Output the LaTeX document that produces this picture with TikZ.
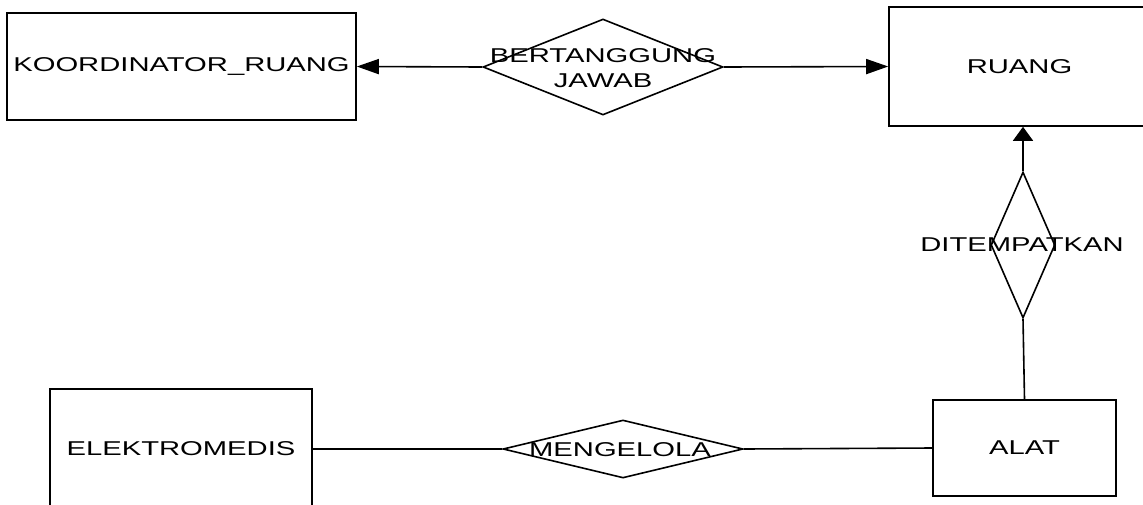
\documentclass[tikz,border=0pt]{standalone}
\usepackage{fontspec}
\setmainfont[FakeStretch=1.46]{Liberation Sans}
\usetikzlibrary{shapes.geometric,arrows.meta}
\begin{document}
\begin{tikzpicture}[x=1pt,y=-1pt,
  every node/.style={font=\fontsize{20}{25}\selectfont, text=black},
  entity/.style={draw, line width=1.6pt, rectangle, inner sep=0pt},
  rel/.style={draw, line width=1.6pt, diamond, inner sep=0pt},
  lbl/.style={align=center, inner sep=0pt},
  conn/.style={line width=1.6pt},
  harr/.style={line width=1.6pt, -{Triangle[length=22pt,width=15pt]}},
  varr/.style={line width=1.6pt, -{Triangle[length=14pt,width=20pt]}}]
\useasboundingbox (0,0) rectangle (1143,504);
% entities
\node[entity, minimum width=349pt, minimum height=107pt] (e1) at (181.5,66.5) {KOORDINATOR\_RUANG};
\node[entity, minimum width=261pt, minimum height=119pt] (e2) at (1019.5,66.5) {RUANG};
\node[entity, minimum width=262pt, minimum height=120pt] (e3) at (181,449) {ELEKTROMEDIS};
\node[entity, minimum width=183pt, minimum height=96pt] (e4) at (1024.5,448) {ALAT};
% relationships
\node[rel, minimum width=240pt, minimum height=96pt] (r1) at (603,67) {};
\node[lbl] (r1t) at (603,68) {BERTANGGUNG\\JAWAB};
\node[rel, minimum width=64pt, minimum height=146pt] (r2) at (1023,245) {};
\node[lbl] (r2t) at (1022,245) {DITEMPATKAN};
\node[rel, minimum width=240pt, minimum height=58pt] (r3) at (623,449) {};
\node[lbl] (r3t) at (620,450) {MENGELOLA};
% connectors
\draw[harr] (r1.west) -- (e1.east);
\draw[harr] (r1.east) -- (e2.west);
\draw[varr] (r2.north) -- (r2.north |- e2.south);
\draw[conn] (r2.south) -- (e4.north);
\draw[conn] (e3.east) -- (r3.west);
\draw[conn] (r3.east) -- (e4.west);
\end{tikzpicture}
\end{document}
